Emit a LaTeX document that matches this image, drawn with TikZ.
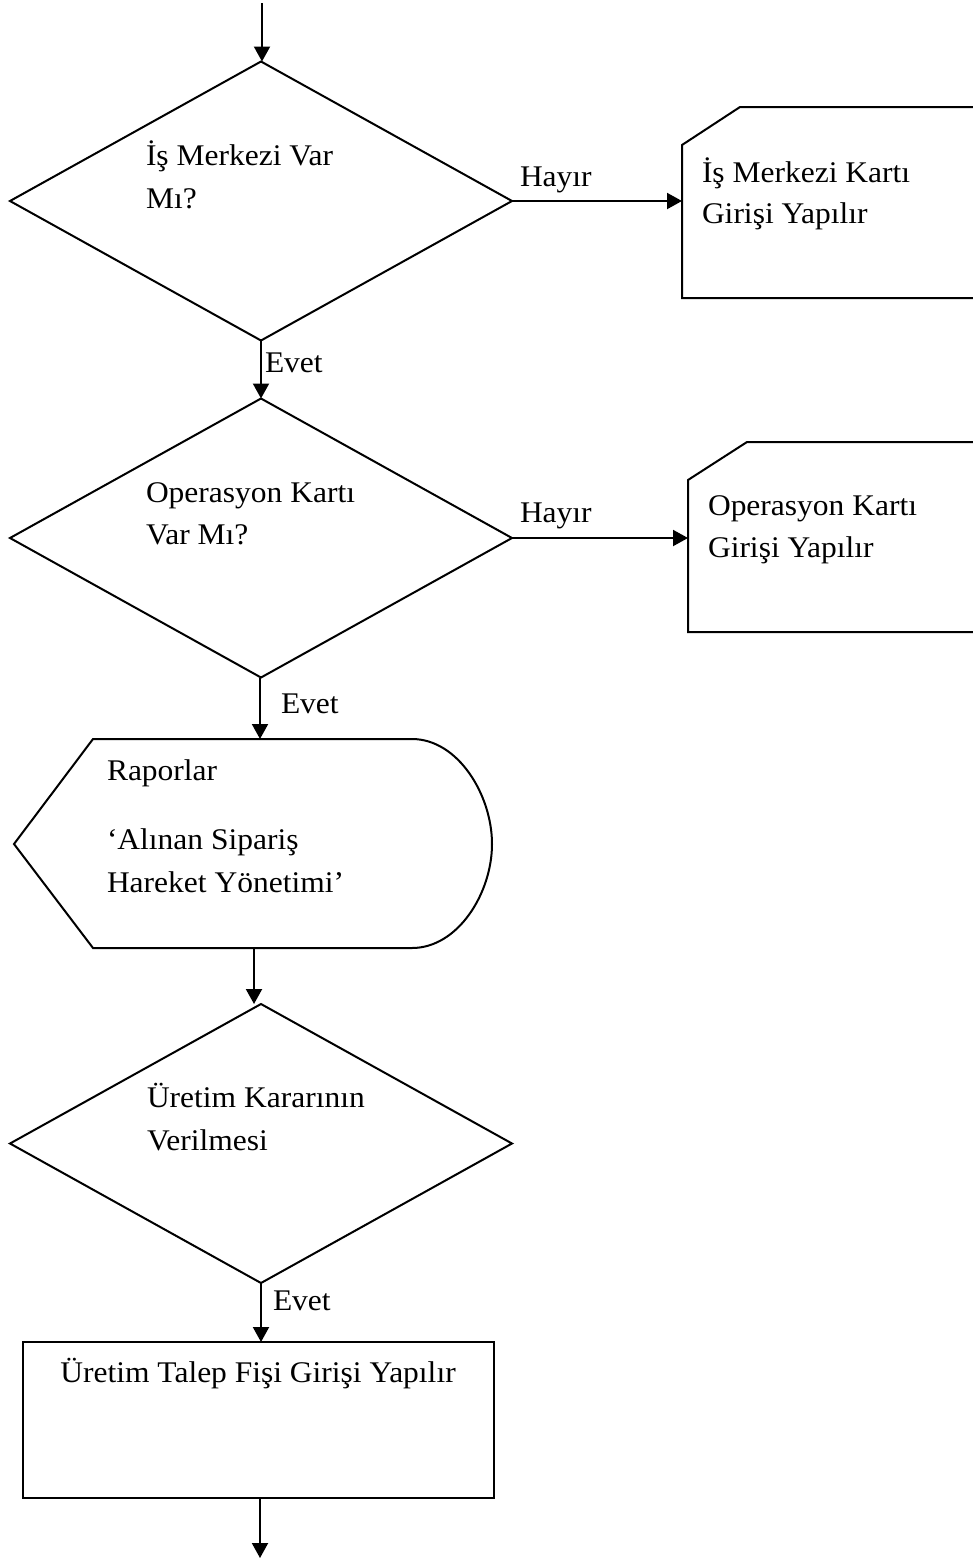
\documentclass[tikz,border=0pt]{standalone}
\usepackage{fontspec}
\setmainfont{Liberation Serif}[FakeStretch=1.05]
\usetikzlibrary{shapes.geometric,arrows.meta}
\begin{document}
\begin{tikzpicture}[x=1pt,y=-1pt,
  line width=2pt,
  arr/.style={-{Triangle[length=15pt,width=16pt]}},
  decision/.style={draw, diamond, inner sep=0pt, outer sep=0pt,
    minimum width=502pt, minimum height=279pt},
  procbox/.style={draw, rectangle, inner sep=0pt, outer sep=0pt,
    minimum width=471pt, minimum height=156pt},
  txt/.style={anchor=base west, inner sep=0pt, outer sep=0pt,
    font=\fontsize{30}{36}\selectfont},
  ctxt/.style={anchor=base, inner sep=0pt, outer sep=0pt,
    font=\fontsize{30}{36}\selectfont},
]
\useasboundingbox (0,0) rectangle (973,1559);
\clip (0,0) rectangle (973,1559);

% ---------- shapes ----------
\node[decision] (d1) at (261,201) {};
\node[decision] (d2) at (261,538) {};
\node[decision] (d3) at (261,1143.5) {};
\node[procbox] (p1) at (258.5,1420) {};

% cards (clipped at the right edge)
\coordinate (c1w) at (682,201);
\draw (990,107) -- (740,107) -- (682,145) -- (682,298) -- (990,298);
\coordinate (c2w) at (688,538);
\draw (990,442) -- (747,442) -- (688,480) -- (688,632) -- (990,632);

% display shape
\coordinate (disptop) at (260,739);
\coordinate (dispbot) at (254,948);
\draw (93,739) -- (412,739)
  .. controls (458,739) and (492,795) .. (492,844)
  .. controls (492,893) and (458,948) .. (412,948)
  -- (93,948) -- (14,844) -- cycle;

% ---------- texts ----------
\node[txt] (t1a) at (146,165) {İş Merkezi Var};
\node[txt] (t1b) at (146,208) {Mı?};
\node[txt] (t2a) at (146,502) {Operasyon Kartı};
\node[txt] (t2b) at (146,544) {Var Mı?};
\node[txt] (t3a) at (147,1107) {Üretim Kararının};
\node[txt] (t3b) at (147,1150) {Verilmesi};
\node[txt] (k1a) at (702,182) {İş Merkezi Kartı};
\node[txt] (k1b) at (702,223) {Girişi Yapılır};
\node[txt] (k2a) at (708,515) {Operasyon Kartı};
\node[txt] (k2b) at (708,557) {Girişi Yapılır};
\node[txt] (r1) at (107,780) {Raporlar};
\node[txt] (r2) at (107,849) {‘Alınan Sipariş};
\node[txt] (r3) at (107,892) {Hareket Yönetimi’};
\node[ctxt] (pt) at (258,1382) {Üretim Talep Fişi Girişi Yapılır};

\node[txt] (h1) at (520,186) {Hayır};
\node[txt] (h2) at (520,522) {Hayır};
\node[txt] (e1) at (265,372) {Evet};
\node[txt] (e2) at (281,713) {Evet};
\node[txt] (e3) at (273,1310) {Evet};

% ---------- connectors ----------
\coordinate (start) at (262,3);
\coordinate (finish) at (260,1558);
\draw[arr] (start) -- (start |- d1.north);
\draw[arr] (d1.east) -- (c1w);
\draw[arr] (d1.south) -- (d2.north);
\draw[arr] (d2.east) -- (c2w);
\draw[arr] (disptop |- d2.south) -- (disptop);
\draw[arr] (dispbot) -- (dispbot |- d3.north);
\draw[arr] (d3.south) -- (d3.south |- p1.north);
\draw[arr] (p1.south -| finish) -- (finish);
\end{tikzpicture}
\end{document}
